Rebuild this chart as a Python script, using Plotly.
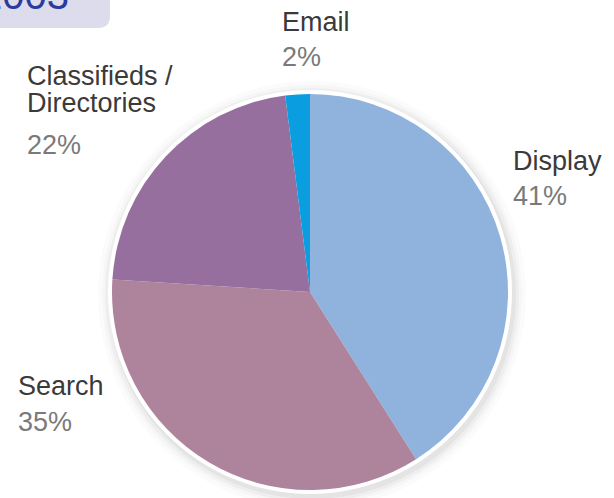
import plotly.graph_objects as go

# ---- data ----
categories = ["Display", "Search", "Classifieds / Directories", "Email"]
label_lines = [["Display"], ["Search"], ["Classifieds /", "Directories"], ["Email"]]
values = [41, 35, 22, 2]
colors = ["#8fb3dd", "#ae849d", "#966f9e", "#0a9de0"]
title_text = "2003"

# ---- layout geometry (pixels) ----
W, H = 614, 498
cx, cy, r = 310, 292, 198


def px(x):
    return x / W


def py(y):
    return 1 - y / H


# label anchor points: (left x, cap-centre y of first line, line step, gap to percent)
label_pos = {
    "Display": (511, 161, 27, 35),
    "Search": (16, 386, 27, 36),
    "Classifieds / Directories": (25, 76, 27, 42),
    "Email": (280, 22, 27, 35),
}

fig = go.Figure(
    go.Pie(
        labels=categories,
        values=values,
        marker=dict(colors=colors, line=dict(width=0)),
        sort=False,
        direction="clockwise",
        rotation=0,
        textinfo="none",
        hoverinfo="label+percent",
        showlegend=False,
        domain=dict(x=[px(cx - r), px(cx + r)], y=[py(cy + r), py(cy - r)]),
    )
)

shapes = []
# soft shadow around pie
for dr, a in [(16, 0.015), (12, 0.02), (9, 0.03), (6, 0.04)]:
    ox, oy = 2, 3
    shapes.append(dict(type="circle", xref="paper", yref="paper", layer="below",
                       x0=px(cx + ox - r - dr), x1=px(cx + ox + r + dr),
                       y0=py(cy + oy + r + dr), y1=py(cy + oy - r - dr),
                       fillcolor=f"rgba(0,0,0,{a})", line=dict(width=0)))
# white rim
shapes.append(dict(type="circle", xref="paper", yref="paper", layer="below",
                   x0=px(cx - r - 4), x1=px(cx + r + 4),
                   y0=py(cy + r + 4), y1=py(cy - r - 4),
                   fillcolor="white", line=dict(width=0)))

# title tab (rounded bottom-right corner)
bx, by, rc = 110, 28, 12
path = (f"M 0,{py(-2)} L {px(bx)},{py(-2)} L {px(bx)},{py(by - rc)} "
        f"Q {px(bx)},{py(by)} {px(bx - rc)},{py(by)} L 0,{py(by)} Z")
shapes.append(dict(type="path", xref="paper", yref="paper", path=path,
                   fillcolor="#dcdcec", line=dict(width=0), layer="below"))

annotations = [dict(text=title_text, xref="paper", yref="paper",
                    x=px(71), y=py(19), xanchor="right", yanchor="bottom",
                    showarrow=False,
                    font=dict(family="Liberation Sans", size=40, color="#2a3b9f"))]

total = sum(values)
for cat, lines, v in zip(categories, label_lines, values):
    x0, y0, step, gap = label_pos[cat]
    y = y0
    for ln in lines:
        annotations.append(dict(text=ln, xref="paper", yref="paper",
                                x=px(x0), y=py(y), xanchor="left", yanchor="middle",
                                showarrow=False,
                                font=dict(family="Liberation Sans", size=27, color="#3a3a3a")))
        y += step
    y = y - step + gap
    annotations.append(dict(text=f"{round(100 * v / total)}%", xref="paper", yref="paper",
                            x=px(x0), y=py(y), xanchor="left", yanchor="middle",
                            showarrow=False,
                            font=dict(family="Liberation Sans", size=27, color="#7a7a7a")))

fig.update_layout(
    width=W, height=H,
    margin=dict(l=0, r=0, t=0, b=0),
    paper_bgcolor="white",
    plot_bgcolor="white",
    shapes=shapes,
    annotations=annotations,
)

fig.write_html("out.html")
